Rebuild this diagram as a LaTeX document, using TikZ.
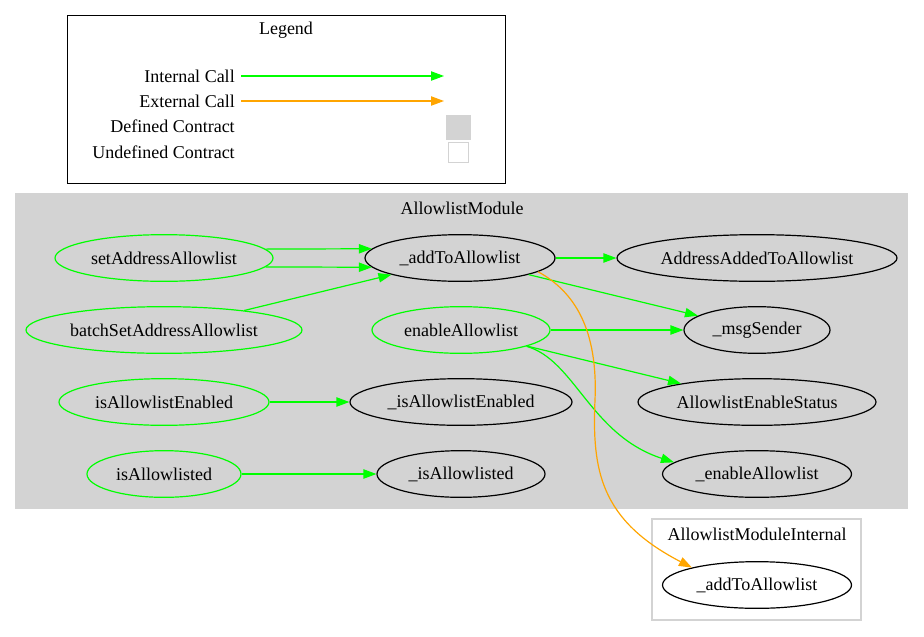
\documentclass[tikz,border=0pt]{standalone}
\usepackage{fontspec}
\setmainfont{Liberation Serif}
\usetikzlibrary{shapes.geometric,arrows.meta}
\definecolor{gvgreen}{HTML}{00FF00}
\definecolor{gvorange}{HTML}{FFA500}
\definecolor{gvgray}{HTML}{D3D3D3}
\tikzset{
  fn/.style={ellipse,draw=black,line width=0.9pt,inner sep=0pt,font=\fontsize{13.5}{15}\selectfont},
  pub/.style={fn,draw=gvgreen},
  lbl/.style={inner sep=0pt,font=\fontsize{13.5}{15}\selectfont},
  tip/.style={-{Triangle[length=9.75pt,width=7pt]}},
  icall/.style={tip,color=gvgreen,line width=0.9pt},
  ecall/.style={tip,color=gvorange,line width=0.9pt},
}
\begin{document}
\begin{tikzpicture}[x=0.75pt,y=-0.75pt]
\useasboundingbox (0,0) rectangle (924,636);
% Legend
\draw[line width=0.75pt] (67,15) rectangle (505,183);
\node[lbl] (legtitle) at (286,30) {Legend};
\node[lbl,anchor=east] (lic) at (235,76) {Internal Call};
\node[lbl,anchor=east] (lec) at (235,101) {External Call};
\node[lbl,anchor=east] (ldc) at (235,126) {Defined Contract};
\node[lbl,anchor=east] (luc) at (235,152) {Undefined Contract};
\coordinate (ic1) at (241,76); \coordinate (ic2) at (444,76);
\coordinate (ec1) at (241,101); \coordinate (ec2) at (444,101);
\draw[icall] (ic1) -- (ic2);
\draw[ecall] (ec1) -- (ec2);
\node[fill=gvgray,draw=gvgray,minimum width=18pt,minimum height=18pt,inner sep=0pt] (defbox) at (458.5,127) {};
\node[fill=white,draw=gvgray,line width=0.9pt,minimum width=15.5pt,minimum height=15.5pt,inner sep=0pt] (undefbox) at (458.5,152.5) {};
% Cluster AllowlistModule
\fill[gvgray] (15,193) rectangle (908,509);
\node[lbl] (cl1) at (462,208) {AllowlistModule};
% Cluster AllowlistModuleInternal
\draw[gvgray,line width=0.9pt] (652,519) rectangle (861,620);
\node[lbl] (cl2) at (757,534) {AllowlistModuleInternal};
% nodes
\node[pub,minimum width=163.5pt,minimum height=35pt] (set) at (164,258) {setAddressAllowlist};
\node[pub,minimum width=207pt,minimum height=35pt] (batch) at (164,330) {batchSetAddressAllowlist};
\node[pub,minimum width=157.5pt,minimum height=35pt] (isen) at (164,402) {isAllowlistEnabled};
\node[pub,minimum width=115.5pt,minimum height=35pt] (isal) at (164,474) {isAllowlisted};
\node[fn,minimum width=142.5pt,minimum height=35pt] (add) at (460,258) {\_addToAllowlist};
\node[pub,minimum width=133.5pt,minimum height=35pt] (enable) at (461,330) {enableAllowlist};
\node[fn,minimum width=166.5pt,minimum height=35pt] (uisen) at (461,402) {\_isAllowlistEnabled};
\node[fn,minimum width=126pt,minimum height=35pt] (uisal) at (461,474) {\_isAllowlisted};
\node[fn,minimum width=210pt,minimum height=35pt] (added) at (757,258) {AddressAddedToAllowlist};
\node[fn,minimum width=109.5pt,minimum height=35pt] (msg) at (757,330) {\_msgSender};
\node[fn,minimum width=178.5pt,minimum height=35pt] (status) at (757,402) {AllowlistEnableStatus};
\node[fn,minimum width=141.75pt,minimum height=35pt] (uenable) at (757,474) {\_enableAllowlist};
\node[fn,minimum width=141.75pt,minimum height=35pt] (iadd) at (757,585) {\_addToAllowlist};
% edges
\draw[icall] (set.5) -- (add.174);
\draw[icall] (set.-5) -- (add.186);
\draw[icall] (batch) -- (add);
\draw[icall] (add) -- (added);
\draw[icall] (add) -- (msg);
\draw[icall] (enable) -- (msg);
\draw[icall] (enable) -- (status);
\draw[icall] (enable.-14) .. controls (575,360) and (590,435) .. (uenable.172);
\draw[icall] (isen) -- (uisen);
\draw[icall] (isal) -- (uisal);
\draw[gvorange,line width=0.9pt] (add.-10.6) .. controls (575,292) and (598,330) .. (595,400) coordinate (omid);
\draw[ecall] (omid) .. controls (592,470) and (600,520) .. (iadd.165);
\end{tikzpicture}
\end{document}
